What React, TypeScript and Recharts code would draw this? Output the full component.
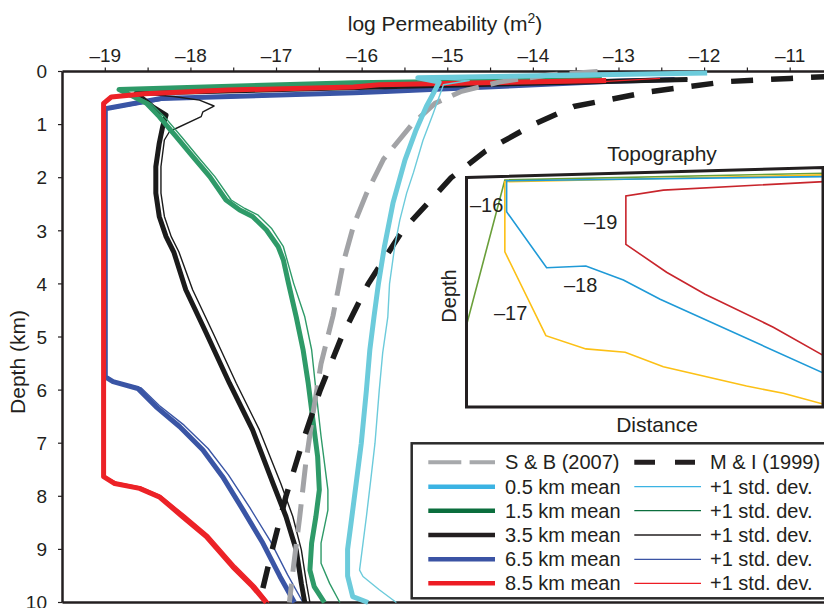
import React from 'react';
import { ScatterChart, Scatter, XAxis, YAxis, ReferenceLine } from 'recharts';

// log permeability (m2) vs depth (km)
const permTicks = [-19, -18.5, -18, -17.5, -17, -16.5, -16, -15.5, -15, -14.5, -14, -13.5, -13, -12.5, -12, -11.5, -11, -10.5];
const depthTicks = [0, 1, 2, 3, 4, 5, 6, 7, 8, 9, 10];

// [log k, depth]
const sb2007 = [[-13.25, 0], [-13.8, 0.06], [-14.4, 0.2], [-14.85, 0.38], [-15.15, 0.6], [-15.42, 1.0], [-15.75, 1.65], [-15.95, 2.3], [-16.1, 2.9], [-16.22, 3.6], [-16.34, 4.6], [-16.48, 5.5], [-16.58, 6.5], [-16.66, 7.4], [-16.73, 8.4], [-16.8, 9.3], [-16.85, 10]];
const mi1999 = [[-10.5, 0.09], [-11.0, 0.13], [-11.74, 0.19], [-12.64, 0.38], [-13.53, 0.66], [-14.0, 1.0], [-14.56, 1.5], [-14.96, 2.0], [-15.53, 3.0], [-15.93, 4.0], [-16.24, 5.0], [-16.49, 6.0], [-16.7, 7.0], [-16.89, 8.0], [-17.05, 9.0], [-17.2, 10.0]];

const mean05 = [[-11.97, 0.03], [-13.6, 0.07], [-15.35, 0.12], [-15.1, 0.2], [-15.18, 0.45], [-15.25, 0.66], [-15.37, 1.1], [-15.5, 1.67], [-15.64, 2.48], [-15.74, 3.3], [-15.81, 4.0], [-15.86, 4.6], [-15.91, 5.24], [-15.95, 6.0], [-16.01, 7.0], [-16.07, 7.76], [-16.13, 8.51], [-16.17, 9.0], [-16.17, 9.5], [-16.11, 9.89], [-15.93, 10]];
const std05 = [[-12.0, 0.04], [-15.2, 0.13], [-14.75, 0.17], [-15.05, 0.25], [-15.17, 0.79], [-15.29, 1.3], [-15.4, 1.9], [-15.48, 2.29], [-15.56, 2.8], [-15.62, 3.3], [-15.68, 4.0], [-15.7, 4.62], [-15.76, 5.3], [-15.8, 6.0], [-15.85, 7.0], [-15.9, 7.7], [-15.95, 8.38], [-16.03, 9.39], [-15.99, 9.51], [-15.8, 9.76], [-15.6, 10]];

const mean15 = [[-13.2, 0.15], [-16.1, 0.21], [-18.84, 0.34], [-18.7, 0.45], [-18.52, 0.6], [-18.37, 0.85], [-18.17, 1.23], [-17.98, 1.6], [-17.78, 1.98], [-17.59, 2.42], [-17.43, 2.61], [-17.28, 2.73], [-17.12, 2.98], [-16.98, 3.3], [-16.92, 3.55], [-16.86, 3.99], [-16.77, 4.62], [-16.69, 5.24], [-16.63, 5.87], [-16.58, 6.5], [-16.52, 7.25], [-16.5, 7.88], [-16.54, 8.38], [-16.59, 8.88], [-16.61, 9.39], [-16.56, 9.7], [-16.44, 10]];
const std15 = [[-13.2, 0.15], [-16.1, 0.21], [-18.84, 0.34], [-18.66, 0.45], [-18.47, 0.6], [-18.31, 0.85], [-18.11, 1.23], [-17.92, 1.6], [-17.72, 1.98], [-17.53, 2.42], [-17.37, 2.58], [-17.22, 2.7], [-17.06, 2.95], [-16.92, 3.3], [-16.8, 3.99], [-16.67, 4.62], [-16.59, 5.24], [-16.54, 6.0], [-16.48, 6.87], [-16.4, 7.88], [-16.4, 8.26], [-16.48, 8.88], [-16.48, 9.26], [-16.38, 9.64], [-16.26, 10]];

const mean35 = [[-12.2, 0.15], [-15.5, 0.28], [-18.64, 0.41], [-18.45, 0.66], [-18.29, 0.82], [-18.33, 1.04], [-18.37, 1.35], [-18.41, 1.79], [-18.41, 2.29], [-18.37, 2.73], [-18.29, 3.11], [-18.2, 3.4], [-18.06, 4.11], [-17.82, 4.93], [-17.55, 5.87], [-17.28, 6.75], [-17.04, 7.76], [-16.89, 8.38], [-16.77, 9.01], [-16.71, 9.64], [-16.67, 10]];
const std35 = [[-12.2, 0.14], [-15.5, 0.27], [-18.64, 0.41], [-18.2, 0.47], [-17.9, 0.54], [-17.73, 0.65], [-17.86, 0.76], [-17.88, 0.85], [-18.25, 1.13], [-18.31, 1.29], [-18.35, 1.79], [-18.35, 2.29], [-18.31, 2.73], [-18.23, 3.11], [-18.14, 3.4], [-17.98, 4.11], [-17.74, 4.93], [-17.47, 5.87], [-17.2, 6.75], [-16.95, 7.76], [-16.81, 8.38], [-16.71, 9.01], [-16.65, 9.64], [-16.61, 10]];

const mean65 = [[-12.35, 0.15], [-13.14, 0.19], [-15.8, 0.38], [-16.09, 0.4], [-18.35, 0.51], [-19.0, 0.7], [-19.0, 5.75], [-18.91, 5.84], [-18.62, 5.97], [-18.41, 6.31], [-18.13, 6.69], [-17.86, 7.13], [-17.63, 7.63], [-17.39, 8.26], [-17.16, 8.88], [-16.96, 9.51], [-16.79, 10]];
const std65 = [[-12.33, 0.13], [-13.1, 0.2], [-15.8, 0.4], [-18.3, 0.53], [-19.03, 0.73], [-19.0, 5.75], [-18.88, 5.84], [-18.58, 5.96], [-18.37, 6.29], [-18.08, 6.66], [-17.8, 7.1], [-17.56, 7.6], [-17.31, 8.22], [-17.07, 8.85], [-16.87, 9.48], [-16.69, 10]];

const mean85 = [[-13.15, 0.17], [-15.8, 0.25], [-16.1, 0.29], [-17.57, 0.35], [-18.54, 0.42], [-18.93, 0.48], [-19.02, 0.6], [-19.02, 7.63], [-18.89, 7.76], [-18.6, 7.85], [-18.37, 8.01], [-18.1, 8.38], [-17.82, 8.76], [-17.51, 9.33], [-17.28, 9.7], [-17.12, 10]];
const std85 = [[-12.52, 0.13], [-13.3, 0.2], [-15.8, 0.27], [-17.6, 0.37], [-18.55, 0.44], [-18.95, 0.5], [-19.0, 0.62], [-19.0, 7.63], [-18.87, 7.74], [-18.58, 7.83], [-18.35, 7.99], [-18.07, 8.36], [-17.79, 8.74], [-17.48, 9.31], [-17.25, 9.68], [-17.09, 10]];

// inset: [distance, depth], both 0-100
const topoGreen = [[0, 65.3], [10.6, 5.8], [100, 3.0]];
const topoYellow = [[100, 3.7], [10.6, 6.5], [10.6, 35.6], [22.1, 70.4], [33.3, 75.9], [44.3, 77.3], [55, 83.3], [78.3, 91.3], [88.6, 94.3], [100, 98.9]];
const topoBlue = [[100, 4.4], [11.1, 6.1], [11.1, 19.0], [22.3, 42.2], [33.3, 41.5], [43.8, 47.3], [54.1, 55.3], [100, 86.0]];
const topoRed = [[100, 6.5], [55, 10.0], [44.5, 12.4], [44.5, 32.5], [55.9, 44.1], [66.7, 53.2], [85.8, 66.9], [100, 78.8]];
const contourLabels = ['–16', '–19', '–18', '–17'];

const meanLabels = ['0.5 km mean', '1.5 km mean', '3.5 km mean', '6.5 km mean', '8.5 km mean'];
const refLabels = ['S & B (2007)', 'M & I (1999)'];
const stdLabel = '+1 std. dev.';

const INK = '#231f20';
const FONT = '"Liberation Sans", Arial, Helvetica, sans-serif';

const pts = (a: number[][]) => a.map(([v, d]) => ({ v, d }));
const ipts = (a: number[][]) => a.map(([x, y]) => ({ x, y }));
const noDot = () => <g />;

// draw order: later on top
const series = [
  { key: 'm65', data: mean65, color: '#3a55a5', w: 5 },
  { key: 's65', data: std65, color: '#3a55a5', w: 1.4 },
  { key: 'm35', data: mean35, color: '#1b1b1b', w: 5 },
  { key: 's35', data: std35, color: '#1b1b1b', w: 1.4 },
  { key: 'm15', data: mean15, color: '#2e9a68', w: 5 },
  { key: 's15', data: std15, color: '#2e9a68', w: 1.4 },
  { key: 'm85', data: mean85, color: '#ec2227', w: 5 },
  { key: 's85', data: std85, color: '#ec2227', w: 1.4 },
  { key: 'sb', data: sb2007, color: '#a2a3a6', w: 5, dash: '28 12' },
  { key: 'mi', data: mi1999, color: '#1b1b1b', w: 5.5, dash: '22 18' },
  { key: 'm05', data: mean05, color: '#6ccbdb', w: 5 },
  { key: 's05', data: std05, color: '#6ccbdb', w: 1.4 },
];

const insetSeries = [
  { key: 'g', data: topoGreen, color: '#6a9f3a' },
  { key: 'y', data: topoYellow, color: '#fcc015' },
  { key: 'b', data: topoBlue, color: '#1f9ad7' },
  { key: 'r', data: topoRed, color: '#c8252c' },
];

const legendColors = ['#3bb3e3', '#0b6e3d', '#231f20', '#3b53a4', '#ed1c24'];

const fmtPerm = (t: number) => (Number.isInteger(t) ? `–${Math.abs(t)}` : '');

const App: React.FC = () => {
  const rowY = [462.3, 486.7, 510.7, 535, 559.3, 583.3];
  return (
    <div style={{ position: 'fixed', left: 0, top: 0, width: 824, height: 608, overflow: 'hidden', background: '#fff', fontFamily: FONT }}>
      <div style={{ position: 'absolute', left: 0, top: 0 }}>
        <ScatterChart width={860} height={608} margin={{ top: 31.5, right: 27, bottom: 5.5, left: 12.5 }}>
          <XAxis
            type="number"
            dataKey="v"
            orientation="top"
            domain={[-19.5, -10.5]}
            ticks={permTicks}
            interval={0}
            tickFormatter={fmtPerm}
            height={40}
            tickSize={4}
            tickMargin={6}
            axisLine={{ stroke: INK, strokeWidth: 2.5 }}
            tickLine={{ stroke: INK, strokeWidth: 1.2 }}
            tick={{ fontSize: 19, fill: INK }}
          />
          <YAxis
            type="number"
            dataKey="d"
            domain={[0, 10]}
            reversed
            ticks={depthTicks}
            interval={0}
            width={50}
            tickSize={4.5}
            tickMargin={11}
            axisLine={{ stroke: INK, strokeWidth: 2.5 }}
            tickLine={{ stroke: INK, strokeWidth: 1.2 }}
            tick={{ fontSize: 19, fill: INK }}
          />
          <ReferenceLine y={10} stroke={INK} strokeWidth={2.5} />
          {series.map((s) => (
            <Scatter
              key={s.key}
              data={pts(s.data)}
              fill={s.color}
              shape={noDot}
              line={{ stroke: s.color, strokeWidth: s.w, strokeDasharray: s.dash, strokeLinejoin: 'round' }}
              lineType="joint"
              isAnimationActive={false}
            />
          ))}
        </ScatterChart>
      </div>

      <div style={{ position: 'absolute', left: 467, top: 166 }}>
        <ScatterChart width={357} height={241} margin={{ top: 0, right: 0, bottom: 0, left: 0 }}>
          <XAxis type="number" dataKey="x" domain={[0, 100]} hide />
          <YAxis type="number" dataKey="y" domain={[0, 100]} reversed hide />
          {insetSeries.map((s) => (
            <Scatter
              key={s.key}
              data={ipts(s.data)}
              fill={s.color}
              shape={noDot}
              line={{ stroke: s.color, strokeWidth: 1.6 }}
              lineType="joint"
              isAnimationActive={false}
            />
          ))}
        </ScatterChart>
      </div>

      <svg width={824} height={608} style={{ position: 'absolute', left: 0, top: 0, pointerEvents: 'none' }}>
        <text x={445} y={31} textAnchor="middle" fontSize={21} fill={INK}>
          log Permeability (m<tspan fontSize={14} dy={-8}>2</tspan><tspan dy={8}>)</tspan>
        </text>
        <text transform="translate(25,362) rotate(-90)" textAnchor="middle" fontSize={21} fill={INK}>Depth (km)</text>

        {/* inset frame and labels */}
        <polygon points="466.5,177.5 823,167.5 823,407 466.5,407" fill="none" stroke={INK} strokeWidth={3} />
        <text x={662} y={161} textAnchor="middle" fontSize={21} fill={INK}>Topography</text>
        <text x={657} y={432} textAnchor="middle" fontSize={21} fill={INK}>Distance</text>
        <text transform="translate(456,296) rotate(-90)" textAnchor="middle" fontSize={20} fill={INK}>Depth</text>
        <text x={470} y={211.7} fontSize={20} fill={INK}>{contourLabels[0]}</text>
        <text x={584} y={229.3} fontSize={20} fill={INK}>{contourLabels[1]}</text>
        <text x={564} y={292.3} fontSize={20} fill={INK}>{contourLabels[2]}</text>
        <text x={494} y={320} fontSize={20} fill={INK}>{contourLabels[3]}</text>

        {/* legend */}
        <rect x={411.7} y={443.3} width={440} height={155} fill="#fff" stroke="#2b2b2b" strokeWidth={2.5} />
        <line x1={428.3} x2={495} y1={rowY[0]} y2={rowY[0]} stroke="#a7a9ac" strokeWidth={4} strokeDasharray="33 8.3" />
        <text x={505} y={rowY[0] + 7} fontSize={20} fill={INK}>{refLabels[0]}</text>
        <line x1={634.3} x2={695} y1={rowY[0]} y2={rowY[0]} stroke={INK} strokeWidth={5} strokeDasharray="20.7 20" />
        <text x={710} y={rowY[0] + 7} fontSize={20} fill={INK}>{refLabels[1]}</text>
        {meanLabels.map((lab, i) => (
          <g key={lab}>
            <line x1={428.3} x2={495} y1={rowY[i + 1]} y2={rowY[i + 1]} stroke={legendColors[i]} strokeWidth={4.5} />
            <text x={505} y={rowY[i + 1] + 7} fontSize={20} fill={INK}>{lab}</text>
            <line x1={634.3} x2={701} y1={rowY[i + 1]} y2={rowY[i + 1]} stroke={legendColors[i]} strokeWidth={1.3} />
            <text x={710} y={rowY[i + 1] + 7} fontSize={20} fill={INK}>{stdLabel}</text>
          </g>
        ))}
      </svg>
    </div>
  );
};

export default App;
